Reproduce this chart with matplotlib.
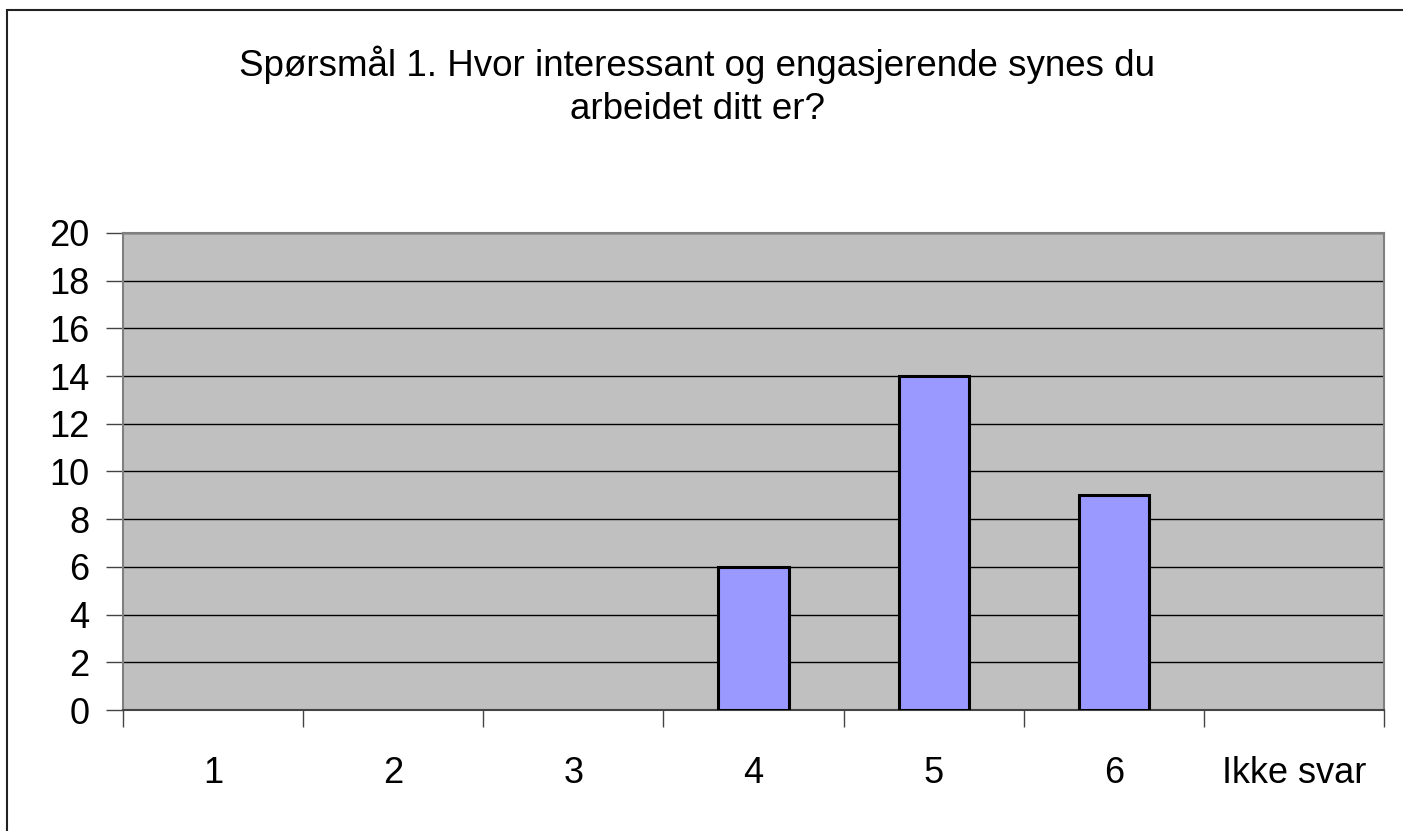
import matplotlib.pyplot as plt
from matplotlib.patches import Rectangle

plt.rcParams['font.family'] = ['Liberation Sans', 'DejaVu Sans']

# data
categories = ["1", "2", "3", "4", "5", "6", "Ikke svar"]
counts = [0, 0, 0, 6, 14, 9, 0]
y_ticks = list(range(0, 21, 2))
title = "Spørsmål 1. Hvor interessant og engasjerende synes du\narbeidet ditt er?"

fig = plt.figure(figsize=(14.03, 8.31), dpi=100)

# outer chart border (Excel style)
fig.patches.append(Rectangle((7 / 1403, -0.05), 1.05, 1 - 10 / 831 + 0.05,
                             transform=fig.transFigure, fill=False,
                             edgecolor="#222222", linewidth=1.5))

ax = fig.add_axes([123 / 1403, 1 - 710 / 831, (1384 - 123) / 1403, (710 - 233) / 831])
ax.set_facecolor("#C0C0C0")

x = list(range(len(categories)))
ax.bar(x, counts, width=0.39, color="#9999FF", edgecolor="black",
       linewidth=[2.2 if c else 0 for c in counts], zorder=3)

ax.set_xlim(-0.5, len(categories) - 0.5)
ax.set_ylim(0, 20)
ax.set_yticks(y_ticks)
ax.yaxis.grid(True, color="black", linewidth=1, zorder=1)
ax.set_axisbelow(True)

# category labels centered, tick marks on the boundaries
ax.set_xticks([i - 0.5 for i in range(len(categories) + 1)])
ax.set_xticklabels([])
ax.set_xticks(x, minor=True)
ax.set_xticklabels(categories, minor=True)
ax.tick_params(axis="x", which="major", length=12, width=1, color="#444444")
ax.tick_params(axis="x", which="minor", length=0, pad=33, labelsize=26)
ax.tick_params(axis="y", length=12, width=1, color="#444444", labelsize=26, pad=12)

for s in ax.spines.values():
    s.set_color("#808080")
    s.set_linewidth(1.5)
ax.spines["bottom"].set_color("#444444")

fig.text(0.497, 1 - 86 / 831, title, ha="center", va="center",
         fontsize=26.5, linespacing=1.3)

fig.savefig("out.png", dpi=100)
